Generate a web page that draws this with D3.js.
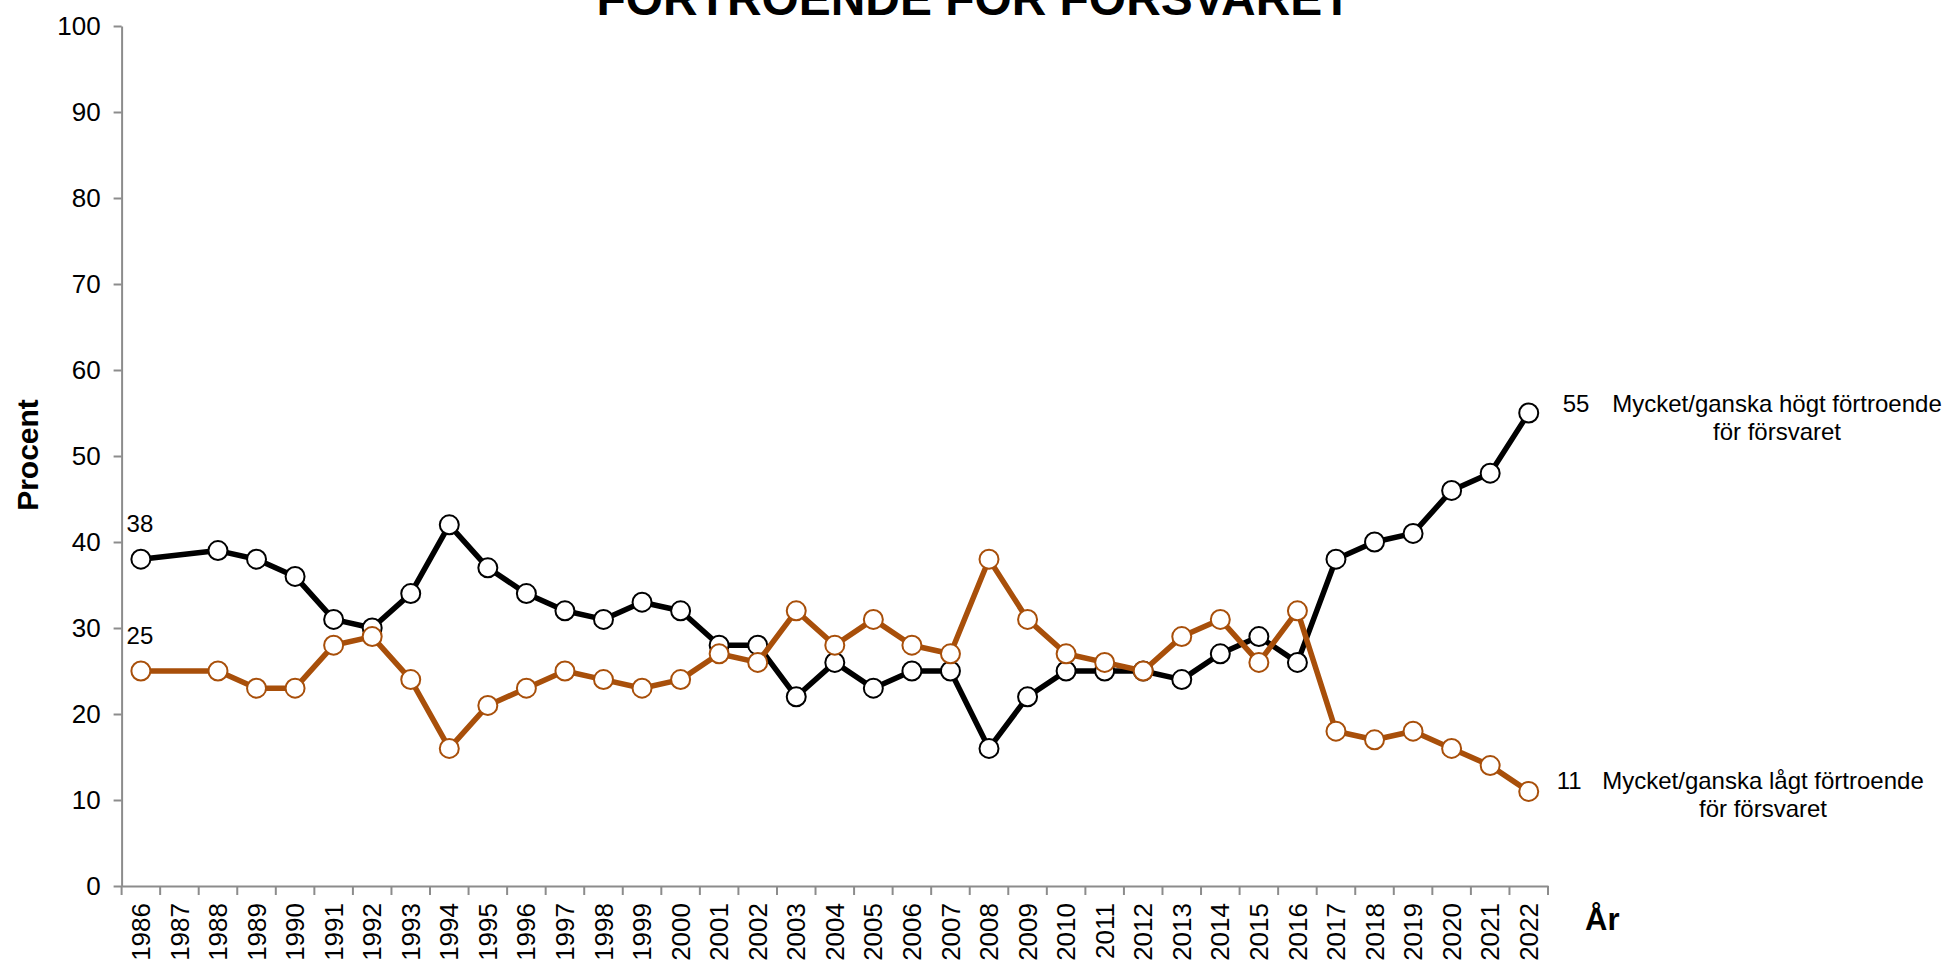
<!DOCTYPE html>
<html lang="sv">
<head>
<meta charset="UTF-8" />
<title>Förtroende för försvaret</title>
<style>
  body { margin: 0; background: #fff; }
  svg text { font-family: Arial, "Liberation Sans", sans-serif; fill: #000; }
</style>
</head>
<body>
<div id="chart"></div>
<script src="https://cdnjs.cloudflare.com/ajax/libs/d3/7.8.5/d3.min.js"></script>
<script>
var years = ['1986','1987','1988','1989','1990','1991','1992','1993','1994','1995',
  '1996','1997','1998','1999','2000','2001','2002','2003','2004','2005','2006',
  '2007','2008','2009','2010','2011','2012','2013','2014','2015','2016','2017',
  '2018','2019','2020','2021','2022'];
// 1987 saknas i mätningen
var hogt = [38,null,39,38,36,31,30,34,42,37,34,32,31,33,32,28,28,22,26,23,25,
  25,16,22,25,25,25,24,27,29,26,38,40,41,46,48,55];
var lagt = [25,null,25,23,23,28,29,24,16,21,23,25,24,23,24,27,26,32,28,31,28,
  27,38,31,27,26,25,29,31,26,32,18,17,18,16,14,11];
var yTicks = [0,10,20,30,40,50,60,70,80,90,100];

var width = 1945, height = 960;
var plotLeft = 121.6, plotRight = 1548, plotTop = 26, plotBottom = 886;
var black = '#000000', brown = '#A84F0A', axisGrey = '#8c8c8c';

var svg = d3.select('#chart').append('svg')
  .attr('width', width)
  .attr('height', height);

var x = d3.scaleBand().domain(years).range([plotLeft, plotRight]).padding(0);
var y = d3.scaleLinear().domain([0, 100]).range([plotBottom, plotTop]);

// titel (delvis utanför bild som i originalet)
svg.append('text')
  .attr('x', 974).attr('y', 15)
  .attr('text-anchor', 'middle')
  .attr('textLength', 755)
  .attr('lengthAdjust', 'spacingAndGlyphs')
  .style('font-size', '48px').style('font-weight', 'bold')
  .text('FÖRTROENDE FÖR FÖRSVARET');

// y-axel
var yAxis = svg.append('g')
  .attr('transform', 'translate(' + plotLeft + ',0)')
  .call(d3.axisLeft(y).tickValues(yTicks).tickSize(8).tickSizeOuter(0).tickPadding(13));
yAxis.select('.domain').attr('stroke', axisGrey).attr('stroke-width', 2);
yAxis.selectAll('.tick line').attr('stroke', axisGrey).attr('stroke-width', 2);
yAxis.selectAll('.tick text').style('font-size', '26px').attr('fill', '#000');

// x-axel: streck mellan kategorierna, etiketter roterade
var xAxis = svg.append('g')
  .attr('transform', 'translate(0,' + plotBottom + ')')
  .call(d3.axisBottom(x).tickSize(0).tickSizeOuter(0));
xAxis.select('.domain').attr('stroke', axisGrey).attr('stroke-width', 2);
xAxis.selectAll('.tick text')
  .style('font-size', '26px')
  .attr('fill', '#000')
  .attr('text-anchor', 'end')
  .attr('transform', 'rotate(-90)')
  .attr('x', -17)
  .attr('y', 0)
  .attr('dy', '0.35em');
xAxis.selectAll('.bound')
  .data(years.concat(['end']))
  .enter().append('line')
  .attr('class', 'bound')
  .attr('x1', function (d, i) { return plotLeft + i * x.step(); })
  .attr('x2', function (d, i) { return plotLeft + i * x.step(); })
  .attr('y1', 0).attr('y2', 9)
  .attr('stroke', axisGrey).attr('stroke-width', 2);

svg.append('text')
  .attr('transform', 'translate(38,455) rotate(-90)')
  .attr('text-anchor', 'middle')
  .style('font-size', '30px').style('font-weight', 'bold')
  .text('Procent');

svg.append('text')
  .attr('x', 1585).attr('y', 930)
  .style('font-size', '31px').style('font-weight', 'bold')
  .text('År');

// serier
var line = d3.line()
  .x(function (d) { return x(d.year) + x.bandwidth() / 2; })
  .y(function (d) { return y(d.value); });

function series(values, color) {
  var pts = years.map(function (yr, i) { return { year: yr, value: values[i] }; })
    .filter(function (d) { return d.value !== null; });
  var g = svg.append('g');
  g.append('path')
    .datum(pts)
    .attr('d', line)
    .attr('fill', 'none')
    .attr('stroke', color)
    .attr('stroke-width', 5.5)
    .attr('stroke-linejoin', 'round');
  g.selectAll('circle')
    .data(pts)
    .enter().append('circle')
    .attr('cx', function (d) { return x(d.year) + x.bandwidth() / 2; })
    .attr('cy', function (d) { return y(d.value); })
    .attr('r', 9.5)
    .attr('fill', '#fff')
    .attr('stroke', color)
    .attr('stroke-width', 2);
}
series(hogt, black);
series(lagt, brown);

// etiketter vid start och slut
var first = years[0], last = years[years.length - 1];
svg.append('text').attr('x', x(first) + 5).attr('y', y(hogt[0]) - 27)
  .style('font-size', '24px').text(hogt[0]);
svg.append('text').attr('x', x(first) + 5).attr('y', y(lagt[0]) - 27)
  .style('font-size', '24px').text(lagt[0]);

var xLast = x(last) + x.bandwidth() / 2;
var hLast = hogt[hogt.length - 1], lLast = lagt[lagt.length - 1];

svg.append('text').attr('x', xLast + 34).attr('y', y(hLast) - 1)
  .style('font-size', '24px').text(hLast);
var hLab = svg.append('text').attr('text-anchor', 'middle').style('font-size', '24px');
hLab.append('tspan').attr('x', 1777).attr('y', y(hLast) - 1).text('Mycket/ganska högt förtroende');
hLab.append('tspan').attr('x', 1777).attr('y', y(hLast) + 27).text('för försvaret');

svg.append('text').attr('x', xLast + 28).attr('y', y(lLast) - 2)
  .style('font-size', '24px').text(lLast);
var lLab = svg.append('text').attr('text-anchor', 'middle').style('font-size', '24px');
lLab.append('tspan').attr('x', 1763).attr('y', y(lLast) - 2).text('Mycket/ganska lågt förtroende');
lLab.append('tspan').attr('x', 1763).attr('y', y(lLast) + 26).text('för försvaret');
</script>
</body>
</html>
